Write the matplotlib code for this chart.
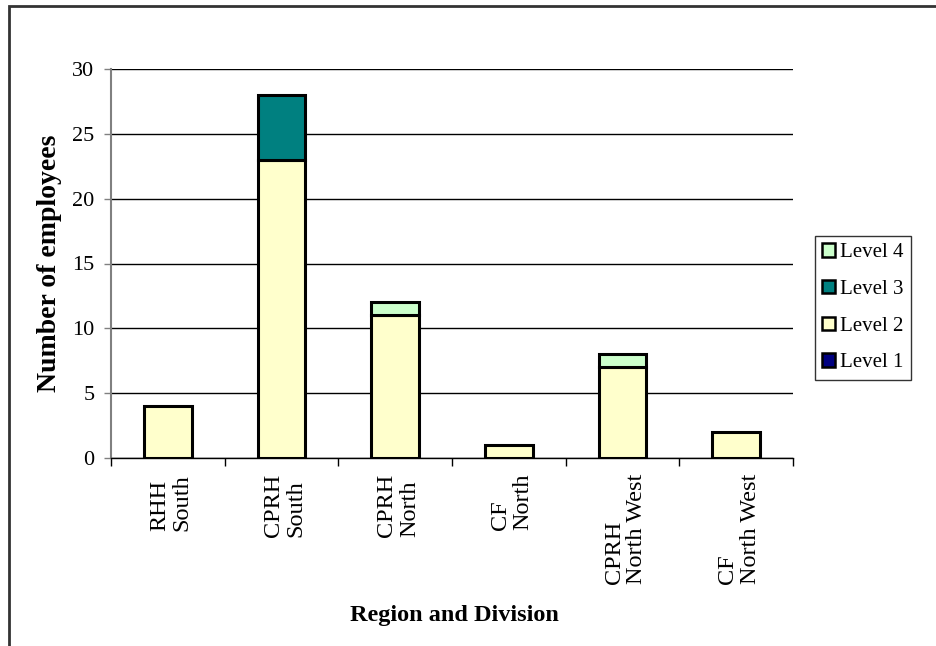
import matplotlib
matplotlib.use("Agg")
import matplotlib.pyplot as plt
from matplotlib.patches import Rectangle, Patch
import numpy as np

categories = ["RHH\nSouth", "CPRH\nSouth", "CPRH\nNorth", "CF\nNorth",
              "CPRH\nNorth West", "CF\nNorth West"]
level1 = [0, 0, 0, 0, 0, 0]
level2 = [4, 23, 11, 1, 7, 2]
level3 = [0, 5, 0, 0, 0, 0]
level4 = [0, 0, 1, 0, 1, 0]
series_names = ["Level 1", "Level 2", "Level 3", "Level 4"]
series_colors = ["#000080", "#FFFFCC", "#008080", "#CCFFCC"]
y_ticks = [0, 5, 10, 15, 20, 25, 30]

plt.rcParams["font.family"] = ["Liberation Serif", "DejaVu Serif"]

W, H = 936, 646
fig = plt.figure(figsize=(W / 100, H / 100), dpi=100)
ax = fig.add_axes([111 / W, 1 - 458 / H, (793 - 111) / W, (458 - 69) / H])

x = np.arange(len(categories))
bottom = np.zeros(len(categories))
for vals, col in zip([level1, level2, level3, level4], series_colors):
    vals = np.array(vals, dtype=float)
    mask = vals > 0
    ax.bar(x[mask], vals[mask], width=0.42, bottom=bottom[mask], color=col,
           edgecolor="black", linewidth=2.2, zorder=3)
    bottom += vals

ax.set_xlim(-0.5, len(categories) - 0.5)
ax.set_ylim(0, 30)
ax.set_yticks(y_ticks)
ax.set_yticklabels([str(t) for t in y_ticks], fontsize=16)
ax.yaxis.grid(True, color="black", linewidth=1)
ax.set_axisbelow(True)
ax.tick_params(axis="y", direction="out", length=5, width=1, color="#808080", pad=7)

# x tick marks on category boundaries, labels at centres
ax.set_xticks(np.arange(len(categories) + 1) - 0.5)
ax.set_xticklabels([])
ax.tick_params(axis="x", direction="out", length=6, width=1, color="black")
for xi, lab in zip(x, categories):
    ax.annotate(lab, xy=(xi, 0), xycoords=("data", "axes fraction"),
                xytext=(3, -16), textcoords="offset pixels",
                rotation=90, ha="center", va="top", multialignment="left",
                fontsize=17.5, linespacing=1.1)

for s in ["top", "right"]:
    ax.spines[s].set_visible(False)
ax.spines["left"].set_color("#808080")
ax.spines["left"].set_linewidth(1.5)
ax.spines["bottom"].set_color("black")
ax.spines["bottom"].set_linewidth(1)

fig.text(50 / W, 1 - 263 / H, "Number of employees", rotation=90,
         ha="center", va="center", fontsize=20, fontweight="bold")
fig.text(454 / W, 1 - 615 / H, "Region and Division", ha="center", va="center",
         fontsize=17.5, fontweight="bold")

handles = [Patch(facecolor=c, edgecolor="black", linewidth=1.8)
           for c in series_colors][::-1]
leg = fig.legend(handles, series_names[::-1], loc="upper left",
                 bbox_to_anchor=(815 / W, 1 - 236 / H), fontsize=15,
                 frameon=True, fancybox=False, edgecolor="black",
                 handlelength=0.6, handleheight=0.6, handletextpad=0.25,
                 labelspacing=0.85, borderpad=0.35, borderaxespad=0)
leg.get_frame().set_linewidth(1)

# outer chart border
fig.patches.append(Rectangle((8.5 / W, -0.2), 1.2, 1.2 - 5.5 / H,
                             transform=fig.transFigure, fill=False,
                             edgecolor="#333333", linewidth=2))

fig.savefig("out.png", dpi=100)
